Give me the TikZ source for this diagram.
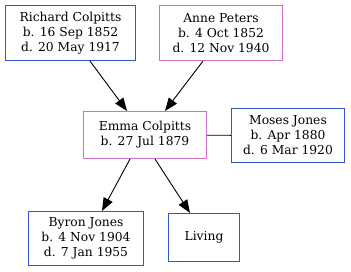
\documentclass[tikz,border=0pt]{standalone}
\usepackage{fontspec}
\setmainfont{DejaVu Serif}
\usetikzlibrary{arrows.meta}
\definecolor{malecol}{RGB}{50,85,205}
\definecolor{femalecol}{RGB}{210,110,205}
\tikzset{
  person/.style={draw, line width=1.1pt, align=center, inner sep=0pt,
    font=\fontsize{12.3}{15}\selectfont},
  male/.style={person, draw=malecol},
  female/.style={person, draw=femalecol},
  parentof/.style={-{Triangle[length=13pt,width=10pt]}, line width=0.9pt},
  spouse/.style={line width=0.9pt}
}
\begin{document}
\begin{tikzpicture}[x=1pt,y=-1pt]
  \useasboundingbox (0,0) rectangle (351,271);
  \node[male, minimum width=130pt, minimum height=55pt] (richard) at (70.5,33)
    {Richard Colpitts\\b. 16 Sep 1852\\d. 20 May 1917};
  \node[female, minimum width=123pt, minimum height=55pt] (anne) at (221,33)
    {Anne Peters\\b. 4 Oct 1852\\d. 12 Nov 1940};
  \node[female, minimum width=123pt, minimum height=47pt] (emma) at (145,135)
    {Emma Colpitts\\b. 27 Jul 1879};
  \node[male, minimum width=113pt, minimum height=54pt] (moses) at (288,135.5)
    {Moses Jones\\b. Apr 1880\\d. 6 Mar 1920};
  \node[male, minimum width=115pt, minimum height=54pt] (byron) at (86,238.5)
    {Byron Jones\\b. 4 Nov 1904\\d. 7 Jan 1955};
  \node[male, minimum width=71pt, minimum height=48pt] (living) at (204,237.5)
    {Living};
  \draw[parentof] (richard.south -| 90,0) -- (emma.north -| 127,0);
  \draw[parentof] (anne.south -| 203,0) -- (emma.north -| 165,0);
  \draw[parentof] (emma.south -| 130,0) -- (byron.north -| 102,0);
  \draw[parentof] (emma.south -| 155,0) -- (living.north -| 190,0);
  \draw[spouse] (emma) -- (moses);
\end{tikzpicture}
\end{document}
